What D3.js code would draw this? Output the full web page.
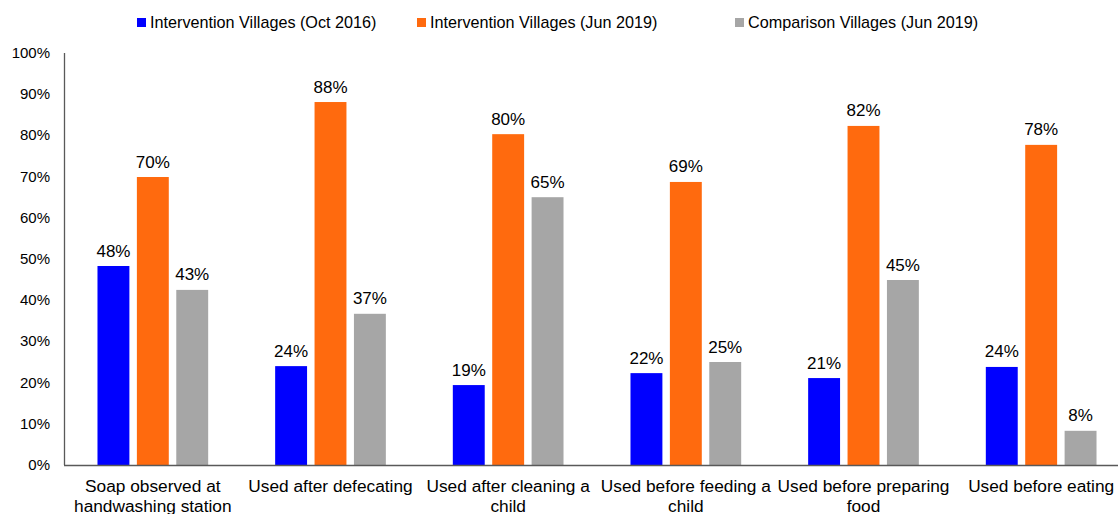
<!DOCTYPE html>
<html>
<head>
<meta charset="utf-8">
<script src="https://cdn.jsdelivr.net/npm/d3@7"></script>
<style>
  body { margin: 0; background: #fff; }
  svg text { font-family: "Liberation Sans", Arial, sans-serif; fill: #000; }
</style>
</head>
<body>
<svg id="chart" width="1118" height="514"></svg>
<script>
// categories, each label split into lines
var categories = [
  ["Soap observed at", "handwashing station"],
  ["Used after defecating"],
  ["Used after cleaning a", "child"],
  ["Used before feeding a", "child"],
  ["Used before preparing", "food"],
  ["Used before eating"]
];
var seriesNames = ["Intervention Villages (Oct 2016)", "Intervention Villages (Jun 2019)", "Comparison Villages (Jun 2019)"];
var seriesColors = ["#0000ff", "#ff6a0e", "#a6a6a6"];

var oct2016 = [48.3, 24.0, 19.4, 22.3, 21.1, 23.8];
var jun2019 = [69.9, 88.1, 80.3, 68.7, 82.3, 77.7];
var comp2019 = [42.5, 36.7, 65.0, 25.0, 44.9, 8.3];
var yTicks = [0, 10, 20, 30, 40, 50, 60, 70, 80, 90, 100];

var series = [oct2016, jun2019, comp2019];

var svg = d3.select("#chart");

var x0 = d3.scaleBand().domain(d3.range(categories.length)).range([64, 1130]).paddingInner(0).paddingOuter(0);
var x1 = d3.scaleBand().domain(d3.range(series.length)).range([0, x0.bandwidth()]).paddingInner(0.19).paddingOuter(0.85);
var y = d3.scaleLinear().domain([0, 100]).range([465, 53]);

//* y axis labels
svg.append("g").selectAll("text").data(yTicks).enter().append("text")
  .attr("x", 50)
  .attr("y", function(d){ return y(d) + 5; })
  .attr("text-anchor", "end")
  .attr("font-size", 15)
  .text(function(d){ return d + "%"; });

//* bars
series.forEach(function(vals, s){
  var g = svg.append("g");
  g.selectAll("rect").data(vals).enter().append("rect")
    .attr("x", function(d, i){ return x0(i) + x1(s); })
    .attr("y", function(d){ return y(d); })
    .attr("width", x1.bandwidth())
    .attr("height", function(d){ return y(0) - y(d); })
    .attr("fill", seriesColors[s]);

  g.selectAll("text").data(vals).enter().append("text")
    .attr("x", function(d, i){ return x0(i) + x1(s) + x1.bandwidth() / 2; })
    .attr("y", function(d){ return y(d) - 9.5; })
    .attr("text-anchor", "middle")
    .attr("font-size", 17)
    .text(function(d){ return Math.round(d) + "%"; });
});

//* axes lines
svg.append("line")
  .attr("x1", 64.5).attr("x2", 64.5)
  .attr("y1", y(100)).attr("y2", y(0))
  .attr("stroke", "#595959").attr("stroke-width", 1.3);
svg.append("line")
  .attr("x1", 64).attr("x2", 1130)
  .attr("y1", y(0) + 0.5).attr("y2", y(0) + 0.5)
  .attr("stroke", "#595959").attr("stroke-width", 1.3);

//* category labels
categories.forEach(function(lines, i){
  var t = svg.append("text")
    .attr("x", x0(i) + x0.bandwidth() / 2)
    .attr("y", 492)
    .attr("text-anchor", "middle")
    .attr("font-size", 17.3);
  lines.forEach(function(line, j){
    t.append("tspan")
      .attr("x", x0(i) + x0.bandwidth() / 2)
      .attr("dy", j === 0 ? 0 : 20)
      .text(line);
  });
});

//* legend
var legendX = [137, 417, 735];
var legend = svg.append("g").selectAll("g").data(seriesNames).enter().append("g")
  .attr("transform", function(d, i){ return "translate(" + legendX[i] + ",0)"; });
legend.append("rect")
  .attr("x", 0).attr("y", 18)
  .attr("width", 9).attr("height", 9)
  .attr("fill", function(d, i){ return seriesColors[i]; });
legend.append("text")
  .attr("x", 13).attr("y", 28)
  .attr("font-size", 16.2)
  .text(function(d){ return d; });
</script>
</body>
</html>
